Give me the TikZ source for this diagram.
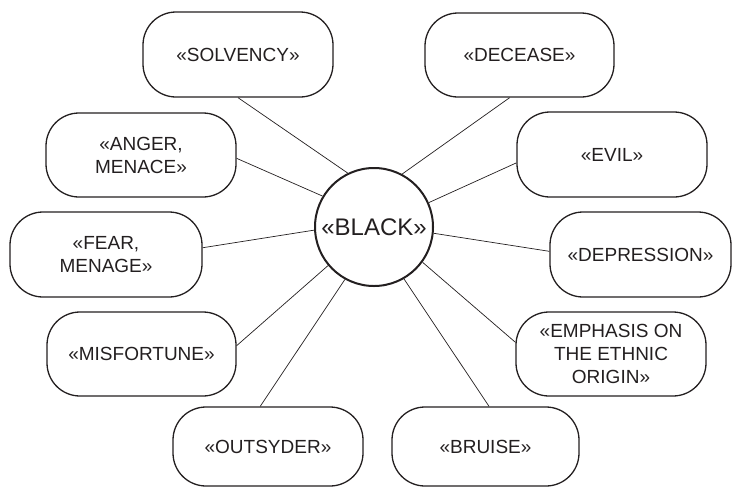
\documentclass[tikz,border=0pt]{standalone}
\usepackage{fontspec}
\setmainfont{Liberation Sans}
\begin{document}
\begin{tikzpicture}[x=1pt,y=-1pt,
  concept/.style={draw=ink, line width=1.3pt, rounded corners=33pt,
    inner sep=0pt, align=center, text=ink,
    font=\fontsize{19}{23}\selectfont},
  hub/.style={draw=ink, circle, line width=2pt, minimum size=118pt,
    inner sep=0pt, text=ink, font=\fontsize{24}{28}\selectfont},
  link/.style={draw=ink, line width=0.7pt}]
\definecolor{ink}{HTML}{231F20}
\useasboundingbox (0,0) rectangle (733,488);

% central concept
\node[hub] (black) at (374,227) {«BLACK»};

% surrounding concepts
\node[concept, minimum width=190pt, minimum height=85pt] (solv) at (238,54.5) {«SOLVENCY»};
\node[concept, minimum width=189pt, minimum height=84pt] (dec)  at (519.5,55) {«DECEASE»};
\node[concept, minimum width=190pt, minimum height=84pt] (ang)  at (141,155) {«ANGER,\\MENACE»};
\node[concept, minimum width=190pt, minimum height=85pt] (evil) at (612,154.5) {«EVIL»};
\node[concept, minimum width=192pt, minimum height=85pt] (fear) at (106,254.5) {«FEAR,\\MENAGE»};
\node[concept, minimum width=181pt, minimum height=85pt] (dep)  at (640.5,254.5) {«DEPRESSION»};
\node[concept, minimum width=189pt, minimum height=84pt] (mis)  at (141.5,354) {«MISFORTUNE»};
\node[concept, minimum width=190pt, minimum height=84pt] (emph) at (611,354) {«EMPHASIS ON\\THE ETHNIC\\ORIGIN»};
\node[concept, minimum width=190pt, minimum height=79pt] (out)  at (268,446.5) {«OUTSYDER»};
\node[concept, minimum width=187pt, minimum height=79pt] (bru)  at (485.5,446.5) {«BRUISE»};

% spokes
\draw[link] (solv.south) -- (black.116.6);
\draw[link] (dec.257)    -- (black.62.2);
\draw[link] (ang.-2)     -- (black.149.5);
\draw[link] (evil.185)   -- (black.24.1);
\draw[link] (fear.4)     -- (black.183.9);
\draw[link] (dep.178)    -- (black.-6.5);
\draw[link] (mis.5.4)    -- (black.220.4);
\draw[link] (emph.173.4) -- (black.324);
\draw[link] (out.101)    -- (black.241.8);
\draw[link] (bru.85)     -- (black.300.3);
\end{tikzpicture}
\end{document}
